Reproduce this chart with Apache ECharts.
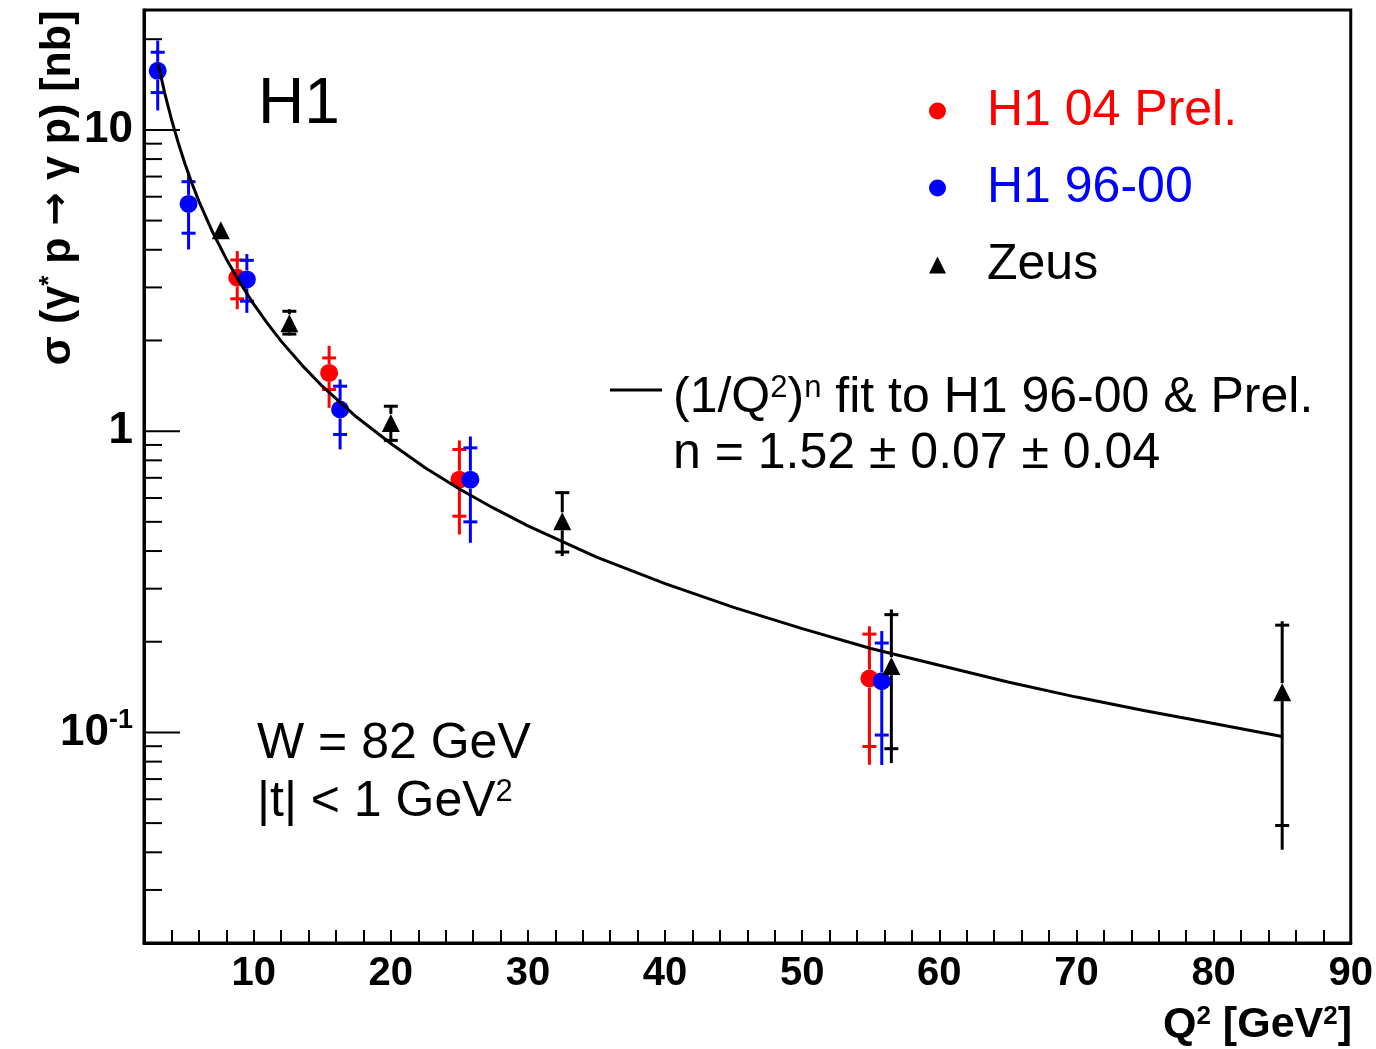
<!DOCTYPE html>
<html>
<head>
<meta charset="utf-8">
<script src="https://cdn.jsdelivr.net/npm/echarts@6/dist/echarts.min.js"></script>
<style>
  html, body { margin: 0; padding: 0; background: #fff; }
  #main { width: 1376px; height: 1049px; }
</style>
</head>
<body>
<div id="main"></div>
<script>
const FONT = '"Liberation Sans", Arial, Helvetica, sans-serif'

// H1 04 preliminary (red)
const prelQ2 = [8.8, 15.5, 25.0, 54.9]
const prelSigma = [3.23, 1.56, 0.69, 0.151]
const prelStatLo = [2.75, 1.375, 0.522, 0.0898]
const prelStatHi = [3.7, 1.75, 0.869, 0.212]
const prelTotLo = [2.54, 1.195, 0.454, 0.0781]
const prelTotHi = [3.96, 1.92, 0.931, 0.225]

// H1 96-00 (blue)
const h1Q2 = [3.0, 5.25, 9.5, 16.3, 25.8, 55.8]
const h1Sigma = [15.7, 5.68, 3.19, 1.18, 0.69, 0.148]
const h1StatLo = [13.3, 4.54, 2.70, 0.975, 0.50, 0.098]
const h1StatHi = [18.1, 6.73, 3.69, 1.41, 0.88, 0.198]
const h1TotLo = [11.6, 4.01, 2.47, 0.87, 0.426, 0.078]
const h1TotHi = [19.8, 7.21, 3.87, 1.485, 0.96, 0.217]

// Zeus (black)
const zeusQ2 = [7.6, 12.6, 20.0, 32.5, 56.5, 85.0]
const zeusSigma = [4.64, 2.28, 1.065, 0.502, 0.166, 0.136]
const zeusStatLo = [4.36, 2.1, 0.932, 0.397, 0.0883, 0.0491]
const zeusStatHi = [4.9, 2.5, 1.21, 0.625, 0.246, 0.227]
const zeusTotLo = [4.34, 2.08, 0.926, 0.385, 0.0791, 0.0408]
const zeusTotHi = [4.95, 2.54, 1.22, 0.63, 0.256, 0.234]

// fit curve
const fitQ2 = [3.05, 3.5, 4, 4.5, 5, 5.5, 6, 7, 8, 9, 10, 11, 12, 13.5, 15, 17.5, 20,
  22.5, 25, 27.5, 30, 35, 40, 45, 50, 55, 60, 65, 70, 75, 80, 85]
const fitSigma = [16.5, 13.3, 10.85, 9.05, 7.69, 6.64, 5.8, 4.58, 3.73, 3.11, 2.64, 2.28, 1.99, 1.66, 1.41, 1.114, 0.91,
  0.756, 0.643, 0.555, 0.485, 0.382, 0.312, 0.26, 0.221, 0.19, 0.167, 0.147, 0.131, 0.118, 0.107, 0.097]

// axes
const xMin = 2, xMax = 90, xStep = 2
const yMin = 0.02, yMax = 25
const yMajorTicks = [0.1, 1, 10]
const yMinorTicks = [0.02, 0.03, 0.04, 0.05, 0.06, 0.07, 0.08, 0.09,
  0.2, 0.3, 0.4, 0.5, 0.6, 0.7, 0.8, 0.9, 2, 3, 4, 5, 6, 7, 8, 9, 20]

const myChart = echarts.init(document.getElementById('main'))

function points(q2, sigma) {
  return q2.map((q, i) => [q, sigma[i]])
}

function errRows(q2, sigma, sLo, sHi, tLo, tHi) {
  return q2.map((q, i) => [q, sigma[i], sLo[i], sHi[i], tLo[i], tHi[i]])
}

// vertical error bar with a gap at the marker and small bars at the stat error
function errorBars(color) {
  return function (params, api) {
    const x = api.value(0)
    const c = api.coord([x, api.value(1)])
    const sLo = api.coord([x, api.value(2)])
    const sHi = api.coord([x, api.value(3)])
    const tLo = api.coord([x, api.value(4)])
    const tHi = api.coord([x, api.value(5)])
    const gap = 9, half = 7
    const st = { stroke: color, lineWidth: 3 }
    const kids = []
    if (tHi[1] < c[1] - gap) kids.push({ type: 'line', shape: { x1: c[0], y1: tHi[1], x2: c[0], y2: c[1] - gap }, style: st })
    if (tLo[1] > c[1] + gap) kids.push({ type: 'line', shape: { x1: c[0], y1: c[1] + gap, x2: c[0], y2: tLo[1] }, style: st })
    if (sHi[1] < c[1] - gap) kids.push({ type: 'line', shape: { x1: c[0] - half, y1: sHi[1], x2: c[0] + half, y2: sHi[1] }, style: st })
    if (sLo[1] > c[1] + gap) kids.push({ type: 'line', shape: { x1: c[0] - half, y1: sLo[1], x2: c[0] + half, y2: sLo[1] }, style: st })
    return { type: 'group', children: kids }
  }
}

function yTicks(len) {
  return function (params, api) {
    const p = api.coord([api.value(0), api.value(1)])
    return { type: 'line', shape: { x1: p[0], y1: p[1], x2: p[0] + len, y2: p[1] }, style: { stroke: '#000', lineWidth: 2 } }
  }
}

const near = (v, k) => Math.abs(Math.log10(v) - k) < 1e-6
const supStyle = (size, bold) => ({ fontSize: size, fontWeight: bold ? 'bold' : 'normal', fontFamily: FONT, verticalAlign: 'top', lineHeight: size, color: '#000' })

const option = {
  backgroundColor: '#fff',
  animation: false,
  grid: { left: 144, right: 21, top: 10, bottom: 106, show: true, borderColor: '#000', borderWidth: 3 },
  xAxis: {
    type: 'value', min: xMin, max: xMax, interval: xStep,
    axisLine: { show: true, lineStyle: { color: '#000', width: 3 } },
    axisTick: { show: true, inside: true, length: 13, lineStyle: { color: '#000', width: 2 } },
    axisLabel: {
      color: '#000', fontFamily: FONT, fontWeight: 'bold', fontSize: 40, margin: 11,
      formatter: v => (Math.abs(v % 10) < 1e-6 ? String(v) : '')
    },
    splitLine: { show: false }
  },
  yAxis: {
    type: 'log', logBase: 10, min: yMin, max: yMax,
    axisLine: { show: true, lineStyle: { color: '#000', width: 3 } },
    axisTick: { show: false },
    splitLine: { show: false },
    axisLabel: {
      color: '#000', fontFamily: FONT, fontWeight: 'bold', fontSize: 44, margin: 11,
      formatter: v => {
        if (near(v, 1)) return '10'
        if (near(v, 0)) return '1'
        if (near(v, -1)) return '{b|10}{s|-1}'
        return ''
      },
      rich: {
        b: { fontFamily: FONT, fontWeight: 'bold', fontSize: 44, lineHeight: 50, color: '#000' },
        s: supStyle(27, true)
      }
    }
  },
  legend: {
    orient: 'vertical', left: 929, top: 76, padding: 0,
    itemWidth: 17, itemHeight: 17, itemGap: 7,
    selectedMode: false,
    textStyle: { fontFamily: FONT, fontSize: 50, lineHeight: 56, padding: [14, 0, 0, 36] },
    data: [
      { name: 'H1 04 Prel.', icon: 'circle', textStyle: { color: '#ff0000' } },
      { name: 'H1 96-00', icon: 'circle', textStyle: { color: '#0000ff' } },
      { name: 'Zeus', icon: 'triangle', textStyle: { color: '#000000' } }
    ]
  },
  series: [
    {
      name: 'prel err', type: 'custom', z: 2, silent: true,
      renderItem: errorBars('#ff0000'),
      encode: { x: 0, y: 1 },
      data: errRows(prelQ2, prelSigma, prelStatLo, prelStatHi, prelTotLo, prelTotHi)
    },
    {
      name: 'H1 04 Prel.', type: 'scatter', z: 3, symbol: 'circle', symbolSize: 18,
      itemStyle: { color: '#ff0000', opacity: 1 },
      data: points(prelQ2, prelSigma)
    },
    {
      name: 'h1 err', type: 'custom', z: 2, silent: true,
      renderItem: errorBars('#0000ff'),
      encode: { x: 0, y: 1 },
      data: errRows(h1Q2, h1Sigma, h1StatLo, h1StatHi, h1TotLo, h1TotHi)
    },
    {
      name: 'H1 96-00', type: 'scatter', z: 3, symbol: 'circle', symbolSize: 18,
      itemStyle: { color: '#0000ff', opacity: 1 },
      data: points(h1Q2, h1Sigma)
    },
    {
      name: 'zeus err', type: 'custom', z: 2, silent: true,
      renderItem: errorBars('#000000'),
      encode: { x: 0, y: 1 },
      data: errRows(zeusQ2, zeusSigma, zeusStatLo, zeusStatHi, zeusTotLo, zeusTotHi)
    },
    {
      name: 'Zeus', type: 'scatter', z: 3, symbol: 'triangle', symbolSize: 18,
      itemStyle: { color: '#000000', opacity: 1 },
      data: points(zeusQ2, zeusSigma)
    },
    {
      name: 'fit', type: 'line', z: 4, showSymbol: false, smooth: false,
      lineStyle: { color: '#000', width: 3 },
      data: points(fitQ2, fitSigma)
    },
    {
      name: 'y major ticks', type: 'custom', z: 5, silent: true,
      renderItem: yTicks(36), encode: { x: 0, y: 1 },
      data: yMajorTicks.map(v => [xMin, v])
    },
    {
      name: 'y minor ticks', type: 'custom', z: 5, silent: true,
      renderItem: yTicks(18), encode: { x: 0, y: 1 },
      data: yMinorTicks.map(v => [xMin, v])
    }
  ],
  graphic: [
    { type: 'text', x: 258, y: 105, style: { text: 'H1', font: '64px ' + FONT, fill: '#000', textVerticalAlign: 'middle' } },
    { type: 'line', shape: { x1: 610, y1: 390, x2: 662, y2: 390 }, style: { stroke: '#000', lineWidth: 3 } },
    {
      type: 'text', x: 673, y: 398,
      style: {
        text: '(1/Q{s|2}){s|n} fit to H1 96-00 & Prel.',
        font: '50px ' + FONT, fill: '#000', textVerticalAlign: 'middle',
        rich: { s: supStyle(31, false) }
      }
    },
    { type: 'text', x: 673, y: 454, style: { text: 'n = 1.52 \u00b1 0.07 \u00b1 0.04', font: '50px ' + FONT, fill: '#000', textVerticalAlign: 'middle' } },
    { type: 'text', x: 257, y: 744, style: { text: 'W = 82 GeV', font: '50px ' + FONT, fill: '#000', textVerticalAlign: 'middle' } },
    {
      type: 'text', x: 257, y: 802,
      style: {
        text: '|t| < 1 GeV{s|2}',
        font: '50px ' + FONT, fill: '#000', textVerticalAlign: 'middle',
        rich: { s: supStyle(31, false) }
      }
    },
    {
      type: 'text', x: 1352, y: 1025,
      style: {
        text: 'Q{s|2} [GeV{s|2}]',
        font: 'bold 43px ' + FONT, fill: '#000', textAlign: 'right', textVerticalAlign: 'middle',
        rich: { s: supStyle(26, true) }
      }
    },
    {
      type: 'text', x: 58, y: 188, rotation: Math.PI / 2,
      style: {
        text: '\u03c3 (\u03b3{s|*} p {a|\u2192} \u03b3 p) [nb]',
        font: 'bold 43px ' + FONT, fill: '#000', textAlign: 'center', textVerticalAlign: 'middle',
        rich: {
          s: supStyle(26, true),
          a: { fontFamily: '"DejaVu Sans", sans-serif', fontWeight: 'bold', fontSize: 40, color: '#000' }
        }
      }
    }
  ]
}

myChart.setOption(option)
</script>
</body>
</html>
